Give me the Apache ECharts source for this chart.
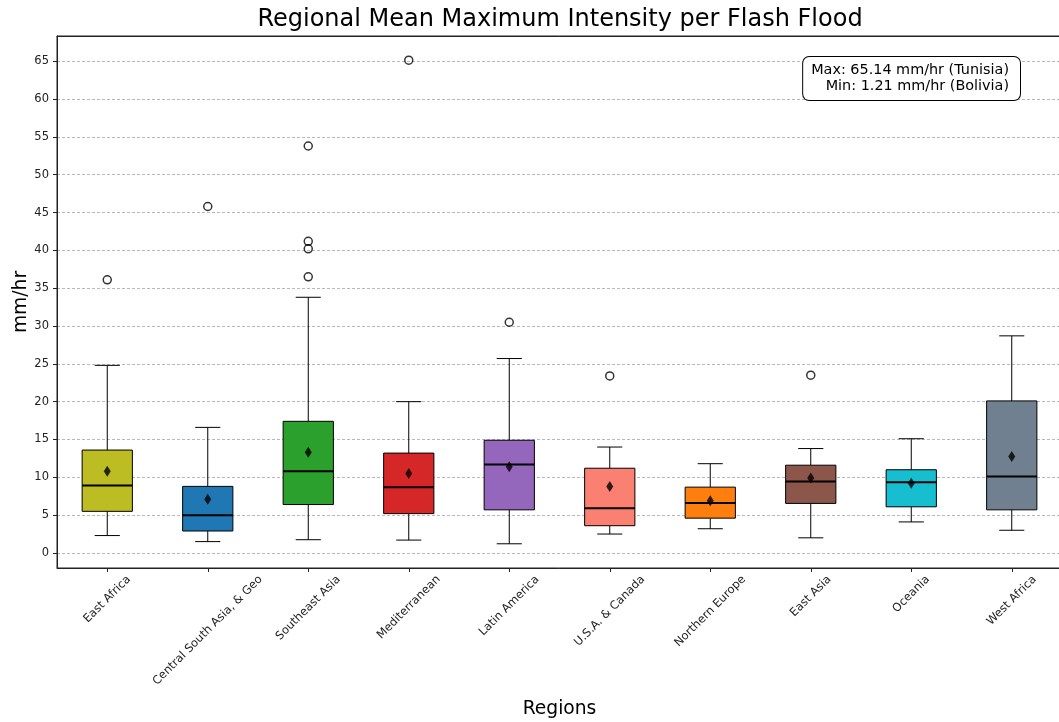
<!DOCTYPE html>
<html>
<head>
<meta charset="utf-8">
<script src="https://cdn.jsdelivr.net/npm/echarts@6/dist/echarts.min.js"></script>
<style>
html,body{margin:0;padding:0;background:#fff;}
#chart{width:1059px;height:722px;}
</style>
</head>
<body>
<div id="chart"></div>
<script>
var categories = ['East Africa','Central South Asia, & Geo','Southeast Asia','Mediterranean','Latin America','U.S.A. & Canada','Northern Europe','East Asia','Oceania','West Africa'];
var whiskerLow  = [2.3, 1.5, 1.75, 1.7, 1.21, 2.5, 3.2, 2.0, 4.1, 3.0];
var q1          = [5.5, 2.9, 6.4, 5.2, 5.7, 3.6, 4.6, 6.55, 6.1, 5.7];
var medians     = [8.9, 5.0, 10.8, 8.7, 11.7, 5.9, 6.6, 9.45, 9.35, 10.1];
var q3          = [13.6, 8.8, 17.4, 13.2, 14.9, 11.2, 8.7, 11.6, 11.0, 20.1];
var whiskerHigh = [24.8, 16.6, 33.8, 20.0, 25.7, 14.0, 11.8, 13.8, 15.1, 28.7];
var means       = [10.8, 7.1, 13.3, 10.5, 11.4, 8.8, 6.9, 9.9, 9.2, 12.75];
var outlierRegions = ['East Africa','Central South Asia, & Geo','Southeast Asia','Southeast Asia','Southeast Asia','Southeast Asia','Mediterranean','Latin America','U.S.A. & Canada','East Asia'];
var outlierValues  = [36.1, 45.8, 53.8, 41.2, 40.2, 36.5, 65.14, 30.5, 23.4, 23.5];
var yTicks = [0, 5, 10, 15, 20, 25, 30, 35, 40, 45, 50, 55, 60, 65];
var boxColors = ['#bcbd22','#1f77b4','#2ca02c','#d62728','#9467bd','#fa8072','#ff7f0e','#8c564b','#17becf','#708090'];

var FONT = 'DejaVu Sans';
var LABEL_SIZE = 11.5, LABEL_LH = 13;

var boxData = categories.map(function (c, i) {
  return [i, whiskerLow[i], q1[i], medians[i], q3[i], whiskerHigh[i]];
});
var meanData = categories.map(function (c, i) { return [c, means[i]]; });
var outlierData = outlierRegions.map(function (c, i) { return [c, outlierValues[i]]; });

// rotated tick labels centred on their tick (matplotlib style): shift via rich padding
var measureCtx = document.createElement('canvas').getContext('2d');
measureCtx.font = LABEL_SIZE + 'px "' + FONT + '"';
var richLabels = {};
categories.forEach(function (c, i) {
  var L = measureCtx.measureText(c).width;
  var p = 0.5 * (L + LABEL_LH);
  richLabels['c' + i] = {
    fontFamily: FONT, fontSize: LABEL_SIZE, lineHeight: LABEL_LH, color: '#222',
    padding: [p, p, 0, 0]
  };
});

function renderBox(params, api) {
  var idx = api.value(0);
  var lo = api.coord([idx, api.value(1)]);
  var b1 = api.coord([idx, api.value(2)]);
  var md = api.coord([idx, api.value(3)]);
  var b3 = api.coord([idx, api.value(4)]);
  var hi = api.coord([idx, api.value(5)]);
  var band = api.size([1, 0])[0];
  var hw = band * 0.25, cw = band * 0.125;
  var x = lo[0];
  var ls = {stroke: '#000', lineWidth: 1};
  return {
    type: 'group',
    children: [
      {type: 'line', shape: {x1: x, y1: b1[1], x2: x, y2: lo[1]}, style: ls},
      {type: 'line', shape: {x1: x, y1: b3[1], x2: x, y2: hi[1]}, style: ls},
      {type: 'line', shape: {x1: x - cw, y1: lo[1], x2: x + cw, y2: lo[1]}, style: ls},
      {type: 'line', shape: {x1: x - cw, y1: hi[1], x2: x + cw, y2: hi[1]}, style: ls},
      {type: 'rect', shape: {x: x - hw, y: b3[1], width: 2 * hw, height: b1[1] - b3[1]},
        style: {fill: boxColors[params.dataIndex], stroke: '#000', lineWidth: 1}},
      {type: 'line', shape: {x1: x - hw, y1: md[1], x2: x + hw, y2: md[1]}, style: {stroke: '#000', lineWidth: 2}}
    ]
  };
}

var chart = echarts.init(document.getElementById('chart'), null, {renderer: 'canvas'});
chart.setOption({
  animation: false,
  backgroundColor: '#fff',
  textStyle: {fontFamily: FONT},
  title: {
    text: 'Regional Mean Maximum Intensity per Flash Flood',
    left: 555, top: 3, textAlign: 'center',
    textStyle: {fontFamily: FONT, fontSize: 24, fontWeight: 'normal', color: '#000'}
  },
  grid: {
    left: 57, top: 36, width: 1005, height: 532,
    outerBoundsMode: 'none',
    containLabel: false,
    show: true, borderColor: '#222', borderWidth: 1, backgroundColor: 'transparent'
  },
  xAxis: [{
    type: 'category',
    data: categories,
    name: 'Regions',
    nameLocation: 'middle',
    nameGap: 132,
    nameTextStyle: {fontFamily: FONT, fontSize: 18.7, color: '#000', verticalAlign: 'top'},
    axisLine: {show: true, onZero: false, lineStyle: {color: '#222', width: 1}},
    axisTick: {show: true, alignWithLabel: true, length: 4, lineStyle: {color: '#222'}},
    axisLabel: {
      rotate: 45, interval: 0, margin: 5,
      align: 'center', verticalAlign: 'middle',
      fontSize: LABEL_SIZE, color: '#222', fontFamily: FONT,
      formatter: function (value, index) { return '{c' + index + '|' + value + '}'; },
      rich: richLabels
    },
    splitLine: {show: false}
  }, {
    type: 'category',
    data: categories,
    position: 'top',
    axisLine: {show: true, onZero: false, lineStyle: {color: '#222', width: 1}},
    axisTick: {show: false},
    axisLabel: {show: false},
    splitLine: {show: false}
  }],
  yAxis: {
    type: 'value',
    min: -1.99, max: 68.34,
    axisLine: {show: true, onZero: false, lineStyle: {color: '#222', width: 1}},
    axisTick: {show: true, length: 4, lineStyle: {color: '#222'}, customValues: yTicks},
    axisLabel: {fontSize: LABEL_SIZE, color: '#222', margin: 8, customValues: yTicks, fontFamily: FONT},
    splitLine: {show: true, lineStyle: {type: [3, 2], color: '#b8b8b8', width: 1}}
  },
  graphic: [{
    type: 'text',
    x: 21, y: 302,
    rotation: Math.PI / 2,
    style: {
      text: 'mm/hr',
      align: 'center',
      verticalAlign: 'middle',
      fontFamily: FONT,
      fontSize: 18.7,
      fill: '#000'
    }
  }, {
    type: 'text',
    x: 1020, y: 57,
    style: {
      text: 'Max: 65.14 mm/hr (Tunisia)\nMin: 1.21 mm/hr (Bolivia)',
      align: 'right',
      verticalAlign: 'top',
      fontFamily: FONT,
      fontSize: 14.4,
      lineHeight: 16,
      fill: '#000',
      backgroundColor: '#fff',
      borderColor: '#000',
      borderWidth: 1,
      borderRadius: 6,
      padding: [5, 11, 6, 8]
    },
    z: 100
  }],
  series: [
    {
      type: 'custom',
      renderItem: renderBox,
      data: boxData,
      encode: {x: 0, y: [1, 2, 3, 4, 5]},
      z: 2
    },
    {
      type: 'scatter',
      data: meanData,
      symbol: 'diamond',
      symbolSize: [7, 11],
      itemStyle: {color: '#000'},
      z: 5
    },
    {
      type: 'scatter',
      data: outlierData,
      symbol: 'circle',
      symbolSize: 8,
      itemStyle: {color: 'rgba(255,255,255,0)', borderColor: '#000', borderWidth: 1.5},
      z: 5
    }
  ]
});
</script>
</body>
</html>
